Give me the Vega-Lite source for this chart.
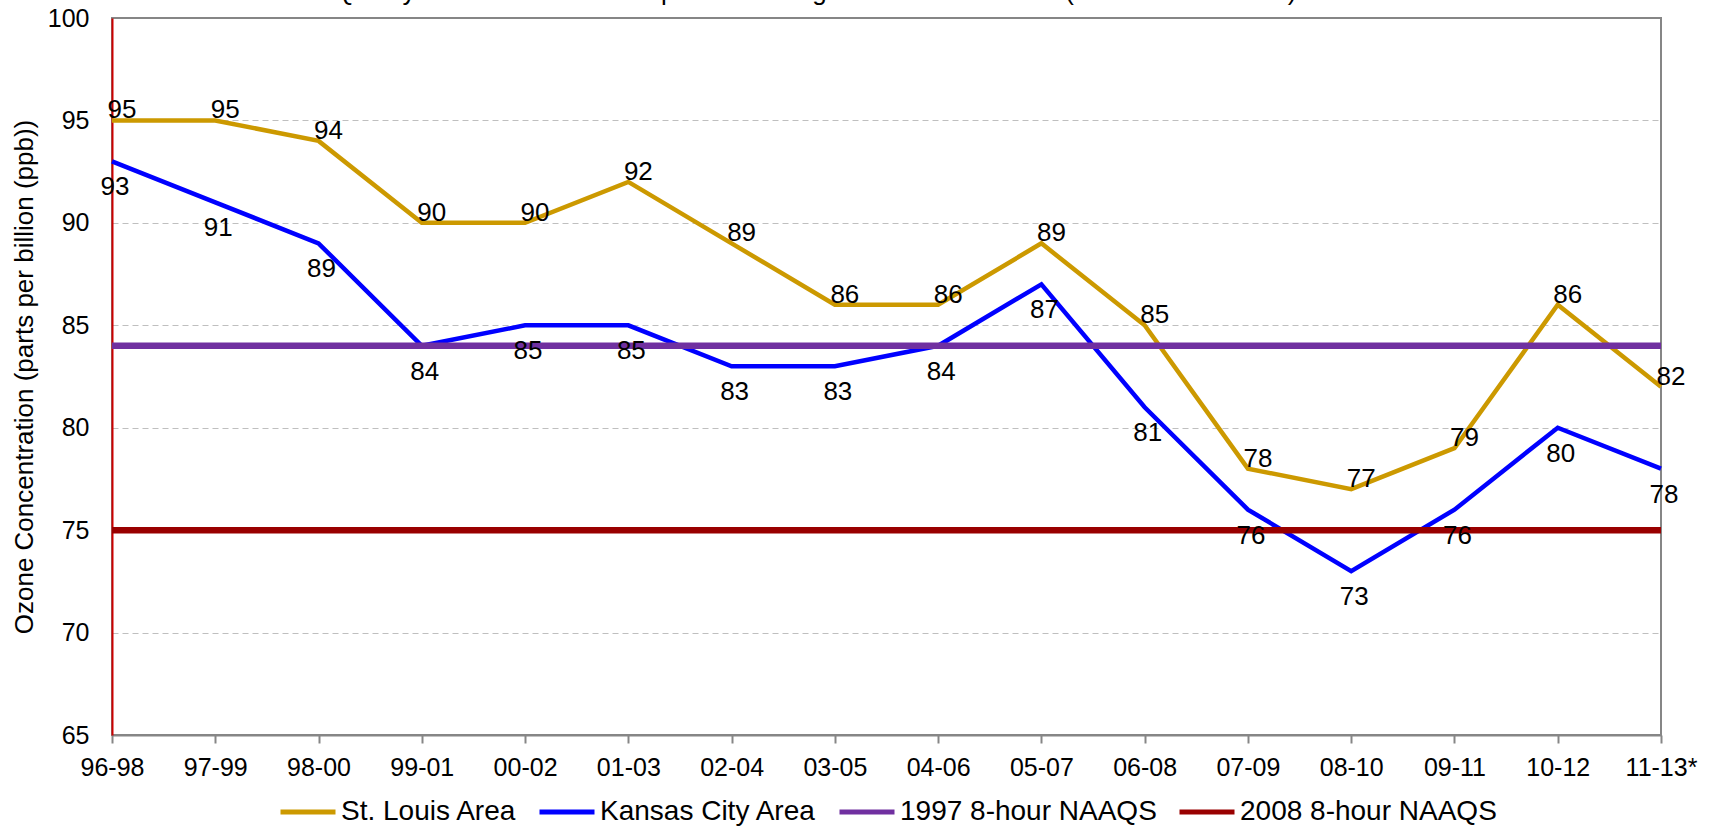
{
  "$schema": "https://vega.github.io/schema/vega-lite/v6.json",
  "width": 1549,
  "height": 717,
  "autosize": {"type": "none"},
  "padding": {"left": 112, "top": 18, "right": 48, "bottom": 95},
  "background": "white",
  "title": {
    "text": "Quality Assured Data from April 1st Through October 31 - 2013 (The ozone season)",
    "font": "Liberation Sans",
    "fontSize": 26,
    "fontWeight": "normal",
    "color": "#000000",
    "anchor": "middle",
    "frame": "group",
    "baseline": "alphabetic",
    "offset": 10,
    "dy": 30,
    "dx": -71
  },
  "datasets": {
    "sites": [
      {"period": "96-98", "site": "St. Louis Area", "ozone": 95},
      {"period": "97-99", "site": "St. Louis Area", "ozone": 95},
      {"period": "98-00", "site": "St. Louis Area", "ozone": 94},
      {"period": "99-01", "site": "St. Louis Area", "ozone": 90},
      {"period": "00-02", "site": "St. Louis Area", "ozone": 90},
      {"period": "01-03", "site": "St. Louis Area", "ozone": 92},
      {"period": "02-04", "site": "St. Louis Area", "ozone": 89},
      {"period": "03-05", "site": "St. Louis Area", "ozone": 86},
      {"period": "04-06", "site": "St. Louis Area", "ozone": 86},
      {"period": "05-07", "site": "St. Louis Area", "ozone": 89},
      {"period": "06-08", "site": "St. Louis Area", "ozone": 85},
      {"period": "07-09", "site": "St. Louis Area", "ozone": 78},
      {"period": "08-10", "site": "St. Louis Area", "ozone": 77},
      {"period": "09-11", "site": "St. Louis Area", "ozone": 79},
      {"period": "10-12", "site": "St. Louis Area", "ozone": 86},
      {"period": "11-13*", "site": "St. Louis Area", "ozone": 82},
      {"period": "96-98", "site": "Kansas City Area", "ozone": 93},
      {"period": "97-99", "site": "Kansas City Area", "ozone": 91},
      {"period": "98-00", "site": "Kansas City Area", "ozone": 89},
      {"period": "99-01", "site": "Kansas City Area", "ozone": 84},
      {"period": "00-02", "site": "Kansas City Area", "ozone": 85},
      {"period": "01-03", "site": "Kansas City Area", "ozone": 85},
      {"period": "02-04", "site": "Kansas City Area", "ozone": 83},
      {"period": "03-05", "site": "Kansas City Area", "ozone": 83},
      {"period": "04-06", "site": "Kansas City Area", "ozone": 84},
      {"period": "05-07", "site": "Kansas City Area", "ozone": 87},
      {"period": "06-08", "site": "Kansas City Area", "ozone": 81},
      {"period": "07-09", "site": "Kansas City Area", "ozone": 76},
      {"period": "08-10", "site": "Kansas City Area", "ozone": 73},
      {"period": "09-11", "site": "Kansas City Area", "ozone": 76},
      {"period": "10-12", "site": "Kansas City Area", "ozone": 80},
      {"period": "11-13*", "site": "Kansas City Area", "ozone": 78}
    ],
    "standards": [
      {"site": "1997 8-hour NAAQS", "ozone": 84},
      {"site": "2008 8-hour NAAQS", "ozone": 75}
    ]
  },
  "layer": [
    {
      "data": {"name": "sites"},
      "mark": {"type": "line", "strokeWidth": 4.5},
      "encoding": {
        "x": {
          "field": "period",
          "type": "ordinal",
          "sort": null,
          "scale": {"type": "point", "padding": 0},
          "axis": {
            "title": null,
            "labelAngle": 0,
            "labelFont": "Liberation Sans",
            "labelFontSize": 25,
            "labelColor": "#000000",
            "labelPadding": 12,
            "tickColor": "#868686",
            "tickSize": 8,
            "tickWidth": 2,
            "domainColor": "#868686",
            "domainWidth": 2,
            "grid": false
          }
        },
        "y": {
          "field": "ozone",
          "type": "quantitative",
          "scale": {"domain": [65, 100], "nice": false, "zero": false},
          "axis": {
            "title": "Ozone Concentration (parts per billion (ppb))",
            "titleFont": "Liberation Sans",
            "titleFontSize": 26,
            "titleFontWeight": "normal",
            "titleColor": "#000000",
            "titlePadding": 10,
            "values": [65, 70, 75, 80, 85, 90, 95, 100],
            "labelFont": "Liberation Sans",
            "labelFontSize": 25,
            "labelColor": "#000000",
            "labelPadding": 23,
            "ticks": false,
            "domainColor": "#CC0000",
            "domainWidth": 2,
            "grid": true,
            "gridColor": "#BFBFBF",
            "gridDash": [6, 4],
            "gridWidth": 1.2,
            "gridOpacity": {"condition": {"test": "datum.value === 100 || datum.value === 65", "value": 0}, "value": 1}
          }
        },
        "color": {
          "field": "site",
          "type": "nominal",
          "scale": {
            "domain": ["St. Louis Area", "Kansas City Area", "1997 8-hour NAAQS", "2008 8-hour NAAQS"],
            "range": ["#CC9900", "#0000FF", "#7030A0", "#990000"]
          },
          "legend": {
            "title": null,
            "orient": "none",
            "direction": "horizontal",
            "legendX": 166,
            "legendY": 764,
            "symbolType": "stroke",
            "symbolSize": 3025,
            "symbolStrokeWidth": 5,
            "labelFont": "Liberation Sans",
            "labelFontSize": 28,
            "labelColor": "#000000",
            "labelOffset": 3,
            "columnPadding": 12,
            "labelLimit": 400
          }
        }
      }
    },
    {
      "data": {"name": "standards"},
      "mark": {"type": "rule", "strokeWidth": 6.5},
      "encoding": {
        "y": {"field": "ozone", "type": "quantitative"},
        "color": {"field": "site", "type": "nominal"}
      }
    },
    {
      "data": {"name": "sites"},
      "transform": [{"filter": "datum.site === 'St. Louis Area'"}],
      "mark": {"type": "text", "font": "Liberation Sans", "fontSize": 26, "color": "#000000", "baseline": "middle", "dx": 10, "dy": -10},
      "encoding": {
        "x": {"field": "period", "type": "ordinal", "sort": null},
        "y": {"field": "ozone", "type": "quantitative"},
        "text": {"field": "ozone", "type": "quantitative"}
      }
    },
    {
      "data": {"name": "sites"},
      "transform": [{"filter": "datum.site === 'Kansas City Area'"}],
      "mark": {"type": "text", "font": "Liberation Sans", "fontSize": 26, "color": "#000000", "baseline": "middle", "dx": 3, "dy": 26},
      "encoding": {
        "x": {"field": "period", "type": "ordinal", "sort": null},
        "y": {"field": "ozone", "type": "quantitative"},
        "text": {"field": "ozone", "type": "quantitative"}
      }
    }
  ],
  "config": {
    "view": {"stroke": "#868686", "strokeWidth": 2},
    "font": "Liberation Sans"
  }
}
